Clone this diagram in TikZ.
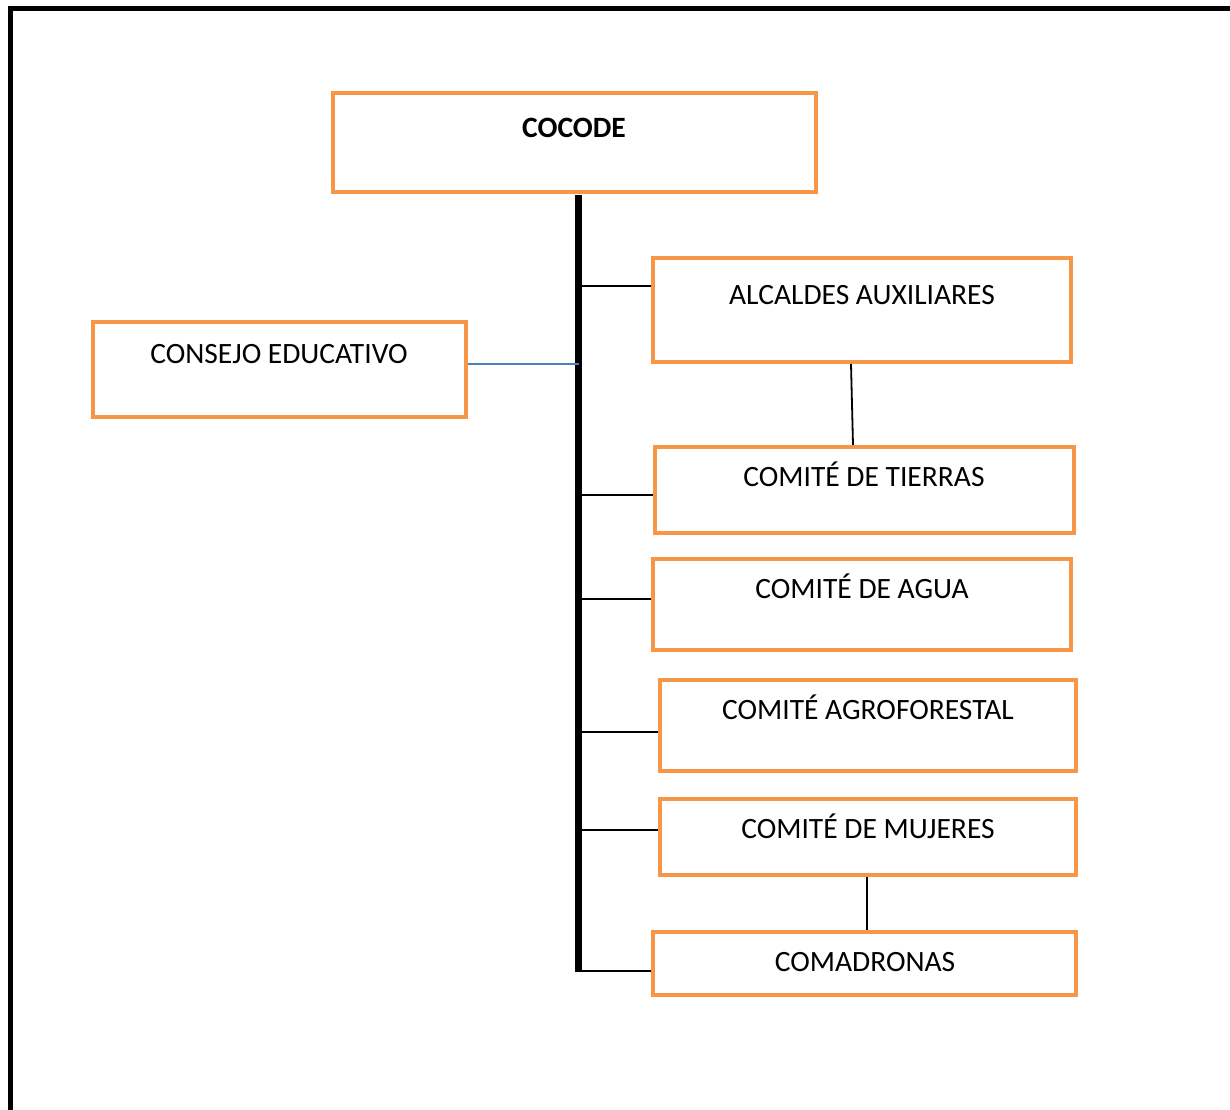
\documentclass[tikz,border=0pt]{standalone}
\usepackage{fontspec}
\setmainfont{Carlito}
\definecolor{boxorange}{HTML}{F79646}
\definecolor{linkblue}{HTML}{4F81BD}
\begin{document}
\begin{tikzpicture}[x=1pt,y=-1pt,
  orgbox/.style={draw=boxorange, line width=4pt, fill=white, inner sep=0pt, minimum width=#1},
  lbl/.style={anchor=base, inner sep=0pt, font=\fontsize{29.5}{33}\selectfont},
  conn/.style={draw=black, line width=1.8pt},
  frame/.style={draw=black, line width=5pt, line join=miter}]
\useasboundingbox (0,0) rectangle (1230,1109);
% outer frame (top and left only visible)
\coordinate (ftl) at (10,8);
\coordinate (ftr) at (1235,8);
\coordinate (fbl) at (10,1115);
\draw[frame] (ftr) -- (ftl) -- (fbl);
% boxes
\node[orgbox=483pt, minimum height=99pt] (cocode) at (574.5,142.5) {};
\node[orgbox=418pt, minimum height=104pt] (alc) at (862,310) {};
\node[orgbox=373pt, minimum height=95pt] (cons) at (279.5,369.5) {};
\node[orgbox=419pt, minimum height=86pt] (tier) at (864.5,490) {};
\node[orgbox=418pt, minimum height=91pt] (agua) at (862,604.5) {};
\node[orgbox=416pt, minimum height=91pt] (agro) at (868,725.5) {};
\node[orgbox=416pt, minimum height=76pt] (muj) at (868,837) {};
\node[orgbox=423pt, minimum height=63pt] (coma) at (864.5,963.5) {};
% labels
\node[lbl, font=\fontsize{29.5}{33}\selectfont\bfseries] (tcocode) at (574,137.5) {COCODE};
\node[lbl] (talc) at (862,304.5) {ALCALDES AUXILIARES};
\node[lbl] (tcons) at (279,363.5) {CONSEJO EDUCATIVO};
\node[lbl] (ttier) at (864,486.5) {COMITÉ DE TIERRAS};
\node[lbl] (tagua) at (862,598.5) {COMITÉ DE AGUA};
\node[lbl] (tagro) at (868,719.5) {COMITÉ AGROFORESTAL};
\node[lbl] (tmuj) at (868,838.5) {COMITÉ DE MUJERES};
\node[lbl] (tcoma) at (865,971.5) {COMADRONAS};
% main bar
\coordinate (bartop) at (578.5,195);
\coordinate (barbot) at (578.5,972);
\draw[line width=7pt] (bartop) -- (barbot);
% branch heights
\coordinate (h1) at (0,286);
\coordinate (h2) at (0,495);
\coordinate (h3) at (0,599);
\coordinate (h4) at (0,732);
\coordinate (h5) at (0,830);
\coordinate (h6) at (0,971);
\coordinate (hb) at (0,364);
\draw[conn] (bartop |- h1) -- (alc.west |- h1);
\draw[conn] (bartop |- h2) -- (tier.west |- h2);
\draw[conn] (bartop |- h3) -- (agua.west |- h3);
\draw[conn] (bartop |- h4) -- (agro.west |- h4);
\draw[conn] (bartop |- h5) -- (muj.west |- h5);
\draw[conn] (bartop |- h6) -- (coma.west |- h6);
\draw[draw=linkblue, line width=1.4pt] (cons.east |- hb) -- (bartop |- hb);
% vertical links
\coordinate (va1) at (851,0);
\coordinate (va2) at (853,0);
\draw[conn] (alc.south -| va1) -- (tier.north -| va2);
\coordinate (vm) at (867,0);
\draw[conn] (muj.south -| vm) -- (coma.north -| vm);
\end{tikzpicture}
\end{document}
